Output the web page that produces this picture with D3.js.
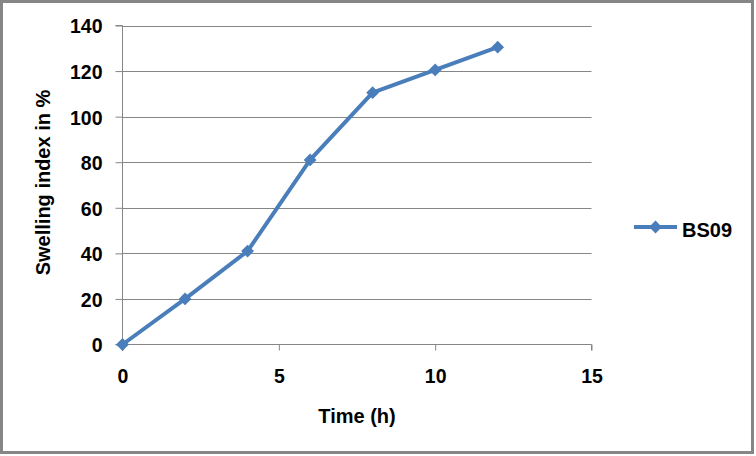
<!DOCTYPE html>
<html><head><meta charset="utf-8">
<script src="https://cdn.jsdelivr.net/npm/d3@7"></script>
<style>body{margin:0;background:#fff}svg{display:block}text{font-family:"Liberation Sans",Arial,sans-serif;font-weight:bold;fill:#000}</style>
</head><body><svg id="c" width="756" height="456"></svg>
<script>
const seriesName = "BS09";
const timeH = [0, 2, 4, 6, 8, 10, 12];
const swelling = [0, 20, 41, 81, 110.5, 120.5, 130.5];
const xTicks = [0, 5, 10, 15];
const yTicks = [0, 20, 40, 60, 80, 100, 120, 140];

const svg = d3.select("#c");
const grid = "#868686";
const blue = "#4A7EBB";
svg.append("rect").attr("x",1.5).attr("y",1.5).attr("width",751).attr("height",451)
  .attr("fill","#fff").attr("stroke",grid).attr("stroke-width",3);

const x = d3.scaleLinear().domain([0,15]).range([122.5,591.5]);
const y = d3.scaleLinear().domain([0,140]).range([344.5,25.5]);

// gridlines
svg.append("g").selectAll("line").data(yTicks.slice(1)).join("line")
  .attr("x1",x(0)).attr("x2",x(15)).attr("y1",d=>Math.round(y(d))+0.5).attr("y2",d=>Math.round(y(d))+0.5)
  .attr("stroke",grid).attr("stroke-width",1);

const yAxis = svg.append("g").attr("transform",`translate(${x(0)},0)`)
  .call(d3.axisLeft(y).tickValues(yTicks).tickSize(7).tickPadding(13).tickFormat(d3.format("d")));
const xAxis = svg.append("g").attr("transform",`translate(0,${y(0)})`)
  .call(d3.axisBottom(x).tickValues(xTicks).tickSize(6).tickPadding(19).tickFormat(d3.format("d")));
[yAxis,xAxis].forEach(a=>{
  a.select(".domain").attr("stroke",grid);
  a.selectAll(".tick line").attr("stroke",grid);
  a.selectAll("text").attr("font-size",19.5).attr("font-family","Liberation Sans, Arial, sans-serif").attr("font-weight","bold").attr("fill","#000");
});
yAxis.selectAll("text").attr("dy","0.38em");
yAxis.select(".domain").attr("d",`M-7,${y(0)}H0V${y(140)}H-7`);
xAxis.select(".domain").attr("d",`M${x(0)},6V0H${x(15)}V6`);

const line = d3.line().x((d,i)=>x(timeH[i])).y(d=>y(d));
svg.append("path").datum(swelling).attr("d",line).attr("fill","none")
  .attr("stroke",blue).attr("stroke-width",4).attr("stroke-linejoin","round");

const diamond = d3.symbol().type(d3.symbolSquare).size(82);
svg.append("g").selectAll("path").data(swelling).join("path")
  .attr("d",diamond).attr("fill",blue)
  .attr("transform",(d,i)=>`translate(${x(timeH[i])},${y(d)}) rotate(45)`);

svg.append("text").attr("x",357).attr("y",423).attr("text-anchor","middle").attr("font-size",20).text("Time (h)");
svg.append("text").attr("transform","translate(50,182.5) rotate(-90)").attr("text-anchor","middle").attr("font-size",20).text("Swelling index in %");

// legend
svg.append("line").attr("x1",634).attr("x2",677).attr("y1",227).attr("y2",227).attr("stroke",blue).attr("stroke-width",4);
svg.append("path").attr("d",diamond).attr("fill",blue).attr("transform","translate(655.5,227) rotate(45)");
svg.append("text").attr("x",682).attr("y",236.5).attr("font-size",20).text(seriesName);
</script></body></html>
